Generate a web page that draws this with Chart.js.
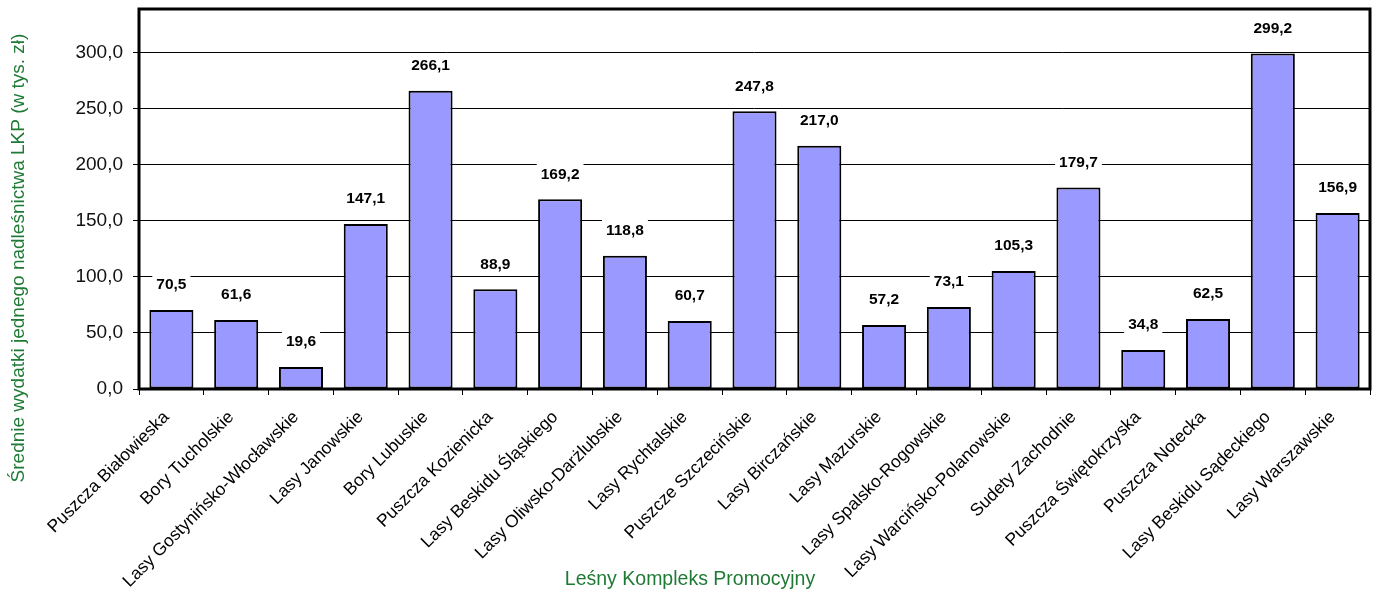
<!DOCTYPE html>
<html>
<head>
<meta charset="utf-8">
<script src="https://cdn.jsdelivr.net/npm/chart.js@4"></script>
<style>
  html, body { margin: 0; padding: 0; background: #fff; }
  #wrap { width: 1380px; height: 592px; }
</style>
</head>
<body>
<div id="wrap"><canvas id="lkpChart" width="1380" height="592"></canvas></div>
<script>
// Średnie wydatki na nadleśnictwo w LKP
const kompleksy = [
  'Puszcza Białowieska', 'Bory Tucholskie', 'Lasy Gostynińsko-Włocławskie', 'Lasy Janowskie',
  'Bory Lubuskie', 'Puszcza Kozienicka', 'Lasy Beskidu Śląskiego', 'Lasy Oliwsko-Darżlubskie',
  'Lasy Rychtalskie', 'Puszcze Szczecińskie', 'Lasy Birczańskie', 'Lasy Mazurskie',
  'Lasy Spalsko-Rogowskie', 'Lasy Warcińsko-Polanowskie', 'Sudety Zachodnie',
  'Puszcza Świętokrzyska', 'Puszcza Notecka', 'Lasy Beskidu Sądeckiego', 'Lasy Warszawskie'
];
const wydatki = [70.5, 61.6, 19.6, 147.1, 266.1, 88.9, 169.2, 118.8, 60.7, 247.8, 217.0, 57.2, 73.1, 105.3, 179.7, 34.8, 62.5, 299.2, 156.9];
const yTicks = [0, 50, 100, 150, 200, 250, 300];

const GREEN = '#1f7a36';
const FONT = '"Liberation Sans", Arial, sans-serif';
const fmt = v => v.toFixed(1).replace('.', ',');

// etykiety wartości z białym tłem
const valueLabels = {
  id: 'valueLabels',
  afterDatasetsDraw(chart) {
    const ctx = chart.ctx;
    const meta = chart.getDatasetMeta(0);
    ctx.save();
    ctx.font = 'bold 15.5px ' + FONT;
    ctx.textAlign = 'center';
    ctx.textBaseline = 'middle';
    meta.data.forEach((bar, i) => {
      const txt = fmt(wydatki[i]);
      const w = ctx.measureText(txt).width + 8;
      const y = bar.y - 25;
      ctx.fillStyle = '#fff';
      ctx.fillRect(bar.x - w / 2, y - 11, w, 22);
      ctx.fillStyle = '#000';
      ctx.fillText(txt, bar.x, y);
    });
    ctx.restore();
  }
};

// ramka obszaru wykresu + tytuły osi
const frame = {
  id: 'frame',
  afterDraw(chart) {
    const { ctx, chartArea: a } = chart;
    ctx.save();
    ctx.strokeStyle = '#000';
    ctx.lineWidth = 3;
    ctx.strokeRect(a.left, a.top, a.right - a.left, a.bottom - a.top);

    ctx.fillStyle = GREEN;
    ctx.textAlign = 'center';
    ctx.textBaseline = 'middle';
    ctx.font = '19.5px ' + FONT;
    ctx.fillText('Leśny Kompleks Promocyjny', chart.width / 2, 580);

    ctx.font = '19px ' + FONT;
    ctx.translate(19, 258);
    ctx.rotate(-Math.PI / 2);
    ctx.fillText('Średnie wydatki jednego nadleśnictwa LKP (w tys. zł)', 0, 0);
    ctx.restore();
  }
};

new Chart(document.getElementById('lkpChart').getContext('2d'), {
  type: 'bar',
  data: {
    labels: kompleksy,
    datasets: [{
      data: wydatki,
      backgroundColor: '#9999ff',
      borderColor: '#000',
      borderWidth: 2,
      borderSkipped: false,
      categoryPercentage: 1,
      barPercentage: 0.68
    }]
  },
  options: {
    responsive: false,
    animation: false,
    layout: { padding: { left: 0, right: 10, top: 9, bottom: 0 } },
    plugins: {
      legend: { display: false },
      tooltip: { enabled: false }
    },
    scales: {
      x: {
        afterFit: axis => { axis.height = 203; },
        grid: { drawOnChartArea: false, drawTicks: true, tickLength: 6, color: '#000', offset: true },
        border: { display: false },
        ticks: {
          color: '#000',
          maxRotation: 45,
          minRotation: 45,
          autoSkip: false,
          padding: 12,
          labelOffset: -5,
          font: { family: FONT, size: 17.5 }
        }
      },
      y: {
        min: 0,
        max: 339,
        afterBuildTicks: axis => { axis.ticks = yTicks.map(v => ({ value: v })); },
        afterFit: axis => { axis.width = 139; axis.paddingTop = 0; },
        grid: { color: '#000', lineWidth: 1, tickLength: 6 },
        border: { display: false },
        ticks: {
          color: '#111',
          padding: 10,
          font: { family: FONT, size: 19 },
          callback: v => fmt(v)
        }
      }
    }
  },
  plugins: [valueLabels, frame]
});
</script>
</body>
</html>
